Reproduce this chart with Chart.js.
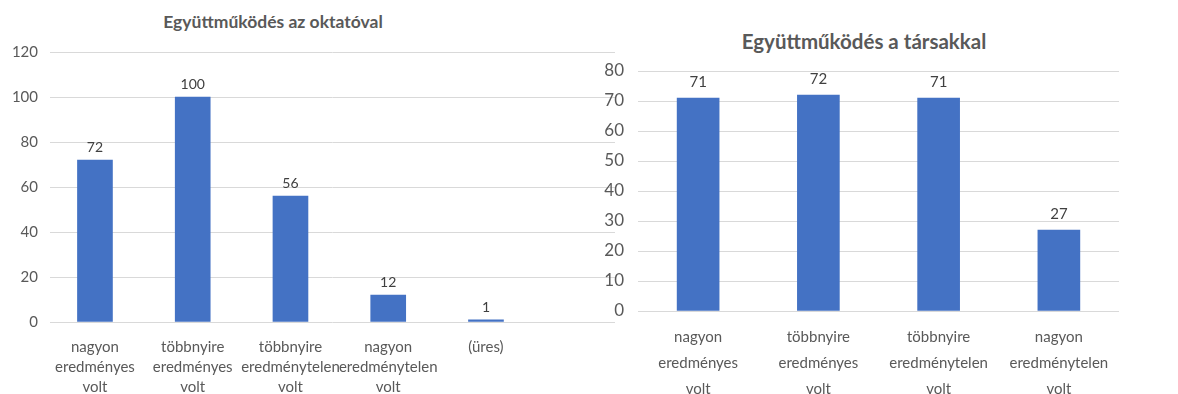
<!DOCTYPE html>
<html lang="hu">
<head>
<meta charset="utf-8">
<script src="https://cdn.jsdelivr.net/npm/chart.js@4.4.1/dist/chart.umd.min.js"></script>
<style>
    body { margin: 0; background: #fff; width: 1178px; height: 394px; position: relative; overflow: hidden; font-family: Lato, sans-serif; }
    .chart-title { position: absolute; color: #595959; font-weight: bold; text-align: center; line-height: 1.2; white-space: nowrap; }
    canvas { position: absolute; top: 0; }
</style>
</head>
<body>
<div class="chart-title" style="left: 0; width: 546px; top: 11px; font-size: 17.5px;">Együttműködés az oktatóval</div>
<div class="chart-title" style="left: 585px; width: 558px; top: 29px; font-size: 20.5px;">Együttműködés a társakkal</div>
<canvas id="teacher-chart" width="625" height="394" style="left: 0;"></canvas>
<canvas id="peers-chart" width="593" height="394" style="left: 585px;"></canvas>
<script>
// Left chart: cooperation with the teacher
const teacherLabels = [
    ['nagyon', 'eredményes', 'volt'],
    ['többnyire', 'eredményes', 'volt'],
    ['többnyire', 'eredménytelen', 'volt'],
    ['nagyon', 'eredménytelen', 'volt'],
    ['(üres)']
];
const teacherValues = [72, 100, 56, 12, 1];
const teacherTicks = [0, 20, 40, 60, 80, 100, 120];

// Right chart: cooperation with peers
const peerLabels = [
    ['nagyon', 'eredményes', 'volt'],
    ['többnyire', 'eredményes', 'volt'],
    ['többnyire', 'eredménytelen', 'volt'],
    ['nagyon', 'eredménytelen', 'volt']
];
const peerValues = [71, 72, 71, 27];
const peerTicks = [0, 10, 20, 30, 40, 50, 60, 70, 80];

const BAR_COLOR = '#4472C4';
const GRID_COLOR = '#d9d9d9';
const TEXT_COLOR = '#595959';

// draws the value above every bar
const valueLabels = {
    id: 'valueLabels',
    afterDatasetsDraw(chart, args, opts) {
        const ctx = chart.ctx;
        ctx.save();
        ctx.font = `${opts.size || 15}px Lato, sans-serif`;
        ctx.fillStyle = '#404040';
        ctx.textAlign = 'center';
        ctx.textBaseline = 'alphabetic';
        chart.getDatasetMeta(0).data.forEach((bar, i) => {
            const raw = chart.data.datasets[0].data[i];
            const v = typeof raw === 'object' ? raw.y : raw;
            ctx.fillText(String(v), bar.x, bar.y - (opts.gap || 8));
        });
        ctx.restore();
    }
};

Chart.defaults.font.family = 'Lato, sans-serif';
Chart.defaults.color = TEXT_COLOR;

new Chart(document.getElementById('teacher-chart'), {
    type: 'bar',
    data: {
        datasets: [{
            data: teacherValues.map((v, i) => ({ x: i, y: v })),
            backgroundColor: BAR_COLOR,
            barThickness: 35
        }]
    },
    options: {
        responsive: false,
        animation: false,
        devicePixelRatio: 1,
        layout: { padding: { top: 52, right: 10, left: 0, bottom: 0 } },
        plugins: {
            legend: { display: false },
            tooltip: { enabled: false },
            valueLabels: { gap: 8, size: 14 }
        },
        scales: {
            x: {
                type: 'linear',
                min: -0.46,
                max: 5.32,
                offset: false,
                bounds: 'data',
                grid: { display: false },
                border: { display: false },
                afterBuildTicks: (scale) => {
                    scale.ticks = teacherLabels.map((_, i) => ({ value: i }));
                },
                afterFit: (scale) => { scale.height = 72; },
                ticks: {
                    autoSkip: false,
                    maxRotation: 0,
                    padding: 7,
                    color: TEXT_COLOR,
                    font: { size: 15, lineHeight: 1.33 },
                    callback: (value) => teacherLabels[value]
                }
            },
            y: {
                min: 0,
                max: 120,
                afterBuildTicks: (scale) => {
                    scale.ticks = teacherTicks.map(v => ({ value: v }));
                },
                afterFit: (scale) => { scale.width = 50; },
                grid: { color: GRID_COLOR, drawTicks: false },
                border: { display: false },
                ticks: { padding: 12, color: TEXT_COLOR, font: { size: 15 } }
            }
        }
    },
    plugins: [valueLabels]
});

new Chart(document.getElementById('peers-chart'), {
    type: 'bar',
    data: {
        labels: peerLabels,
        datasets: [{
            data: peerValues,
            backgroundColor: BAR_COLOR,
            barThickness: 42
        }]
    },
    options: {
        responsive: false,
        animation: false,
        devicePixelRatio: 1,
        layout: { padding: { top: 71, right: 59, left: 0, bottom: 0 } },
        plugins: {
            legend: { display: false },
            tooltip: { enabled: false },
            valueLabels: { gap: 11, size: 15 }
        },
        scales: {
            x: {
                grid: { display: false },
                border: { display: false },
                afterFit: (scale) => { scale.height = 83; },
                ticks: {
                    autoSkip: false,
                    maxRotation: 0,
                    padding: 5,
                    color: TEXT_COLOR,
                    font: { size: 15, lineHeight: 1.75 }
                }
            },
            y: {
                min: 0,
                max: 80,
                afterBuildTicks: (scale) => {
                    scale.ticks = peerTicks.map(v => ({ value: v }));
                },
                afterFit: (scale) => { scale.width = 53; },
                grid: { color: GRID_COLOR, drawTicks: false },
                border: { display: false },
                ticks: { padding: 14, color: TEXT_COLOR, font: { size: 17 } }
            }
        }
    },
    plugins: [valueLabels]
});
</script>
</body>
</html>
